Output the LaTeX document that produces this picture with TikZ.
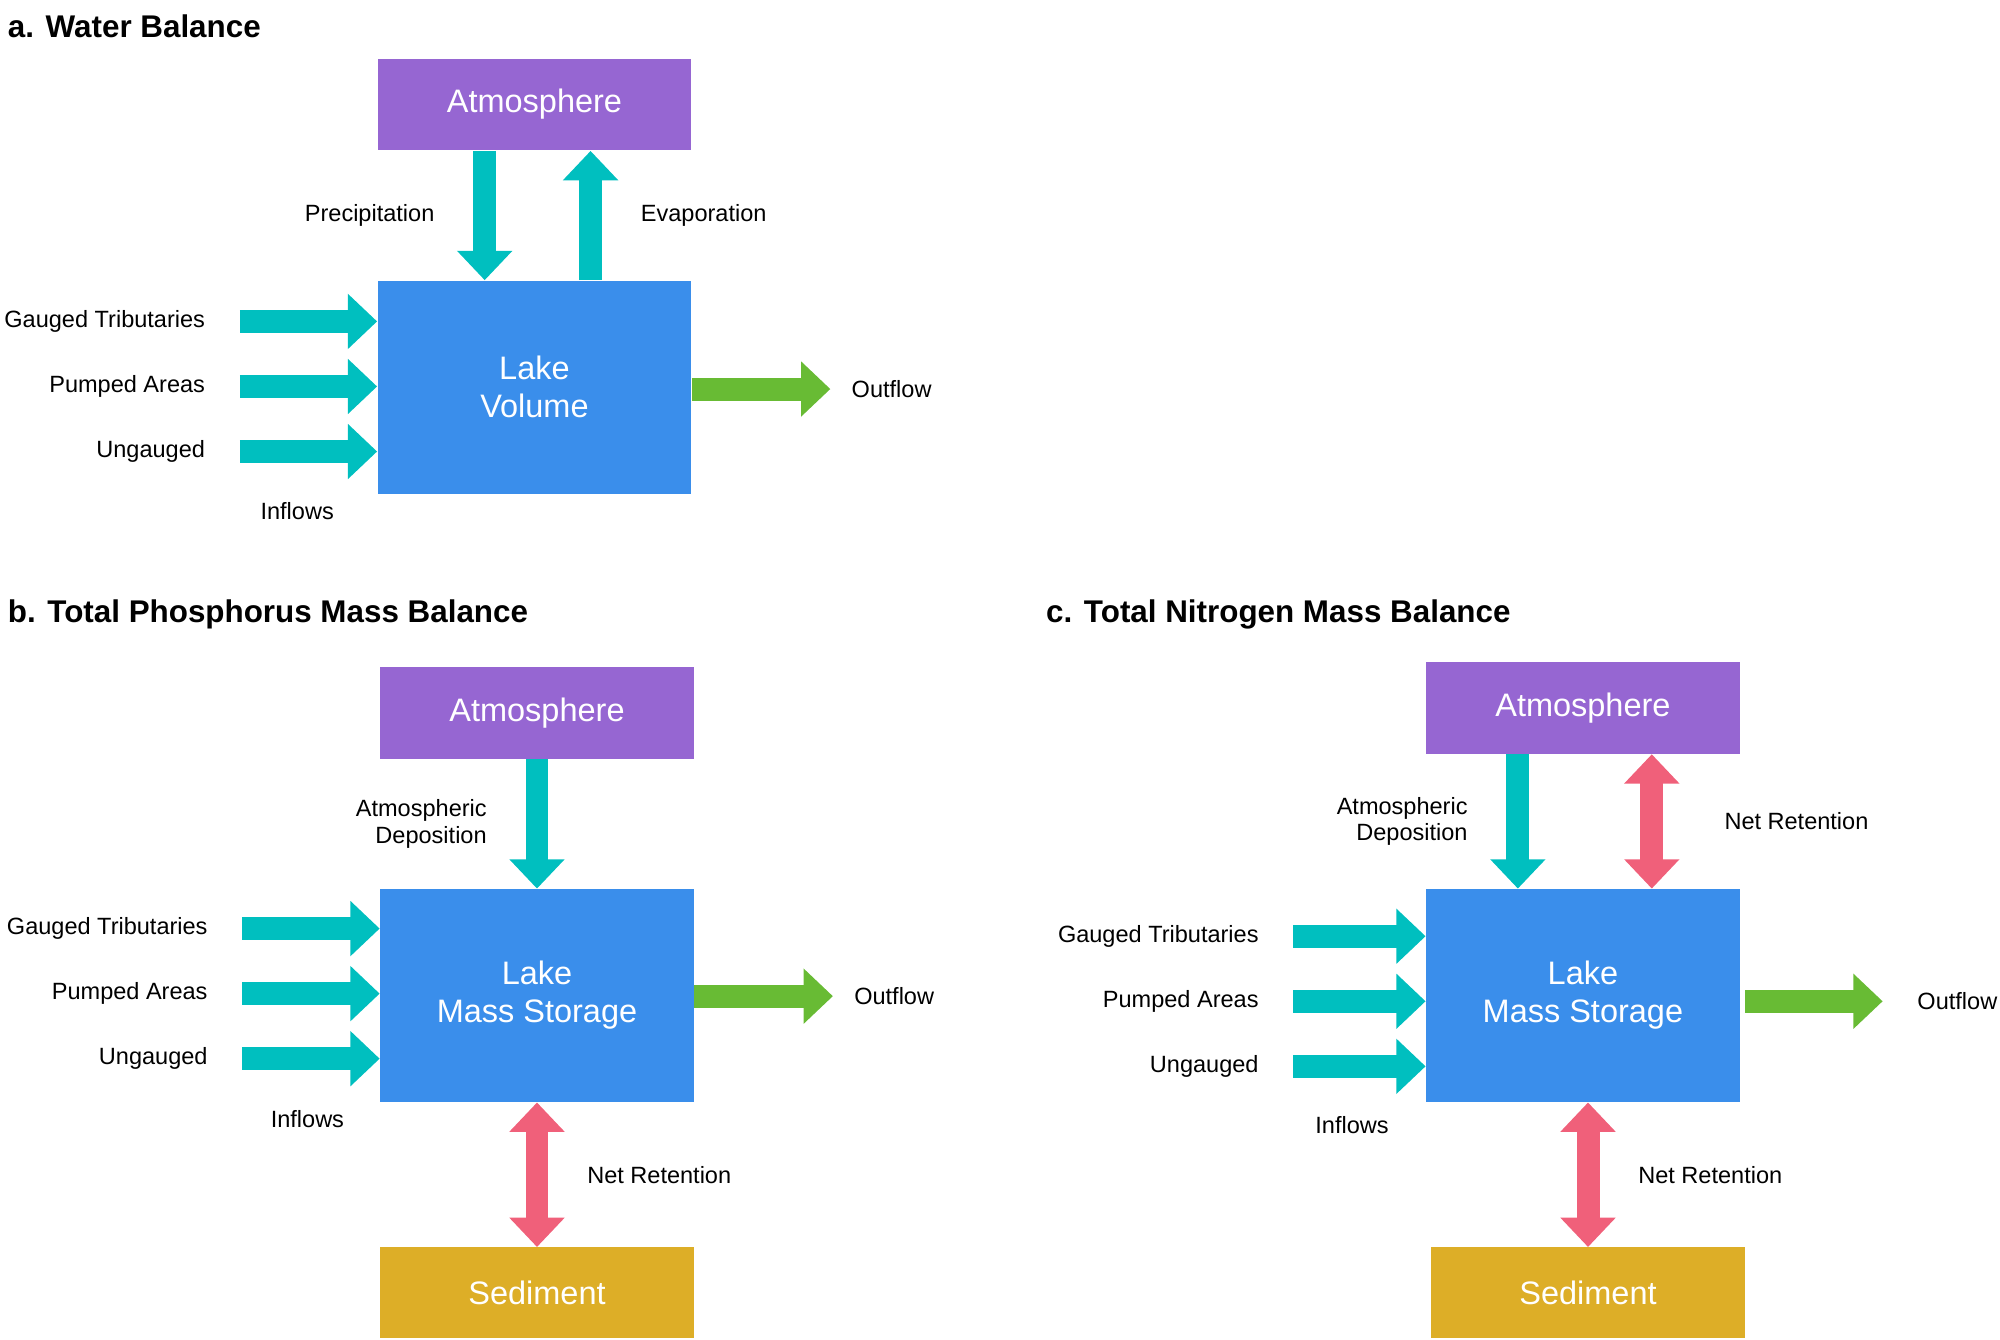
\documentclass[tikz,border=0pt]{standalone}
\usepackage{fontspec}
\setmainfont{Liberation Sans}
\usetikzlibrary{arrows.meta, positioning, calc}
\definecolor{atmcol}{HTML}{9666D2}
\definecolor{lakecol}{HTML}{3A8EEB}
\definecolor{sedcol}{HTML}{DDAE27}
\definecolor{flowcol}{HTML}{00BFBF}
\definecolor{outcol}{HTML}{68BB34}
\definecolor{retcol}{HTML}{F0607A}
\begin{document}
\begin{tikzpicture}[
    x=0.02cm, y=-0.02cm,
    every node/.style={font=\fontsize{10.5}{12}\selectfont},
    box/.style={minimum width=4.92cm, text=white, align=center, font=\fontsize{14.5}{17}\selectfont},
    atm/.style={box, fill=atmcol, minimum height=1.44cm},
    lake/.style={box, fill=lakecol, minimum height=3.34cm},
    sed/.style={box, fill=sedcol, minimum height=1.42cm},
    flow/.style={draw=#1, line width=0.36cm, -{Triangle[width=0.84cm, length=0.46cm]}},
    flow/.default=flowcol,
    ret/.style={draw=retcol, line width=0.36cm, {Triangle[width=0.84cm, length=0.46cm]}-{Triangle[width=0.84cm, length=0.46cm]}},
    title/.style={font=\fontsize{14}{16}\selectfont\bfseries, anchor=west}
]
\useasboundingbox (0,0) rectangle (1568,1050);

% === TITLES ===
\node[title] (tA) at (0,21) {a. Water Balance};
\node[title] (tB) at (0,482) {b. Total Phosphorus Mass Balance};
\node[title] (tC) at (814,482) {c. Total Nitrogen Mass Balance};

% === PANEL A ===
\node[atm] (atmA) at (419,82) {Atmosphere};
\node[lake] (lakeA) at (419,303.5) {Lake\\Volume};
\draw[flow] ($(atmA.south)+(-39,0)$) -- node[left=14pt] {Precipitation} ($(lakeA.north)+(-39,0)$);
\draw[flow] ($(lakeA.north)+(44,0)$) -- node[right=14pt] {Evaporation} ($(atmA.south)+(44,0)$);
\coordinate (gA1) at (188,252);
\coordinate (gA2) at (188,303);
\coordinate (gA3) at (188,354);
\coordinate (oA) at (651,305);
\draw[flow] (gA1) -- (lakeA.west |- gA1);
\draw[flow] (gA2) -- (lakeA.west |- gA2);
\draw[flow] (gA3) -- (lakeA.west |- gA3);
\draw[flow=outcol] (lakeA.east |- oA) -- (oA);
\node[left=12pt] at (gA1) {Gauged Tributaries};
\node[left=12pt] at (gA2) {Pumped Areas};
\node[left=12pt] at (gA3) {Ungauged};
\node at (233,401) {Inflows};
\node[right=6pt] at (oA) {Outflow};

% === PANEL B ===
\node[atm] (atmB) at (421,559) {Atmosphere};
\node[lake] (lakeB) at (421,780.5) {Lake\\Mass Storage};
\node[sed] (sedB) at (421,1013.5) {Sediment};
\draw[flow] (atmB.south) -- node[left=14pt, align=right] {Atmospheric\\Deposition} (lakeB.north);
\draw[ret] (lakeB.south) -- node[right=14pt] {Net Retention} (sedB.north);
\coordinate (gB1) at (190,728);
\coordinate (gB2) at (190,779);
\coordinate (gB3) at (190,830);
\coordinate (oB) at (653,781);
\draw[flow] (gB1) -- (lakeB.west |- gB1);
\draw[flow] (gB2) -- (lakeB.west |- gB2);
\draw[flow] (gB3) -- (lakeB.west |- gB3);
\draw[flow=outcol] (lakeB.east |- oB) -- (oB);
\node[left=12pt] at (gB1) {Gauged Tributaries};
\node[left=12pt] at (gB2) {Pumped Areas};
\node[left=12pt] at (gB3) {Ungauged};
\node at (241,877) {Inflows};
\node[right=6pt] at (oB) {Outflow};

% === PANEL C ===
\node[atm] (atmC) at (1241,555) {Atmosphere};
\node[lake] (lakeC) at (1241,780.5) {Lake\\Mass Storage};
\node[sed] (sedC) at (1245,1013.5) {Sediment};
\draw[flow] ($(atmC.south)+(-51,0)$) -- node[left=14pt, align=right] {Atmospheric\\Deposition} ($(lakeC.north)+(-51,0)$);
\draw[ret] ($(atmC.south)+(54,0)$) -- node[right=24pt] {Net Retention} ($(lakeC.north)+(54,0)$);
\draw[ret] (lakeC.south -| sedC) -- node[right=14pt] {Net Retention} (sedC.north);
\coordinate (gC1) at (1014,734);
\coordinate (gC2) at (1014,785);
\coordinate (gC3) at (1014,836);
\coordinate (oC) at (1476,785);
\draw[flow] (gC1) -- (lakeC.west |- gC1);
\draw[flow] (gC2) -- (lakeC.west |- gC2);
\draw[flow] (gC3) -- (lakeC.west |- gC3);
\draw[flow=outcol] ($(lakeC.east |- oC)+(4,0)$) -- (oC);
\node[left=12pt] at (gC1) {Gauged Tributaries};
\node[left=12pt] at (gC2) {Pumped Areas};
\node[left=12pt] at (gC3) {Ungauged};
\node at (1060,882) {Inflows};
\node[right=12pt] at (oC) {Outflow};

\end{tikzpicture}
\end{document}
